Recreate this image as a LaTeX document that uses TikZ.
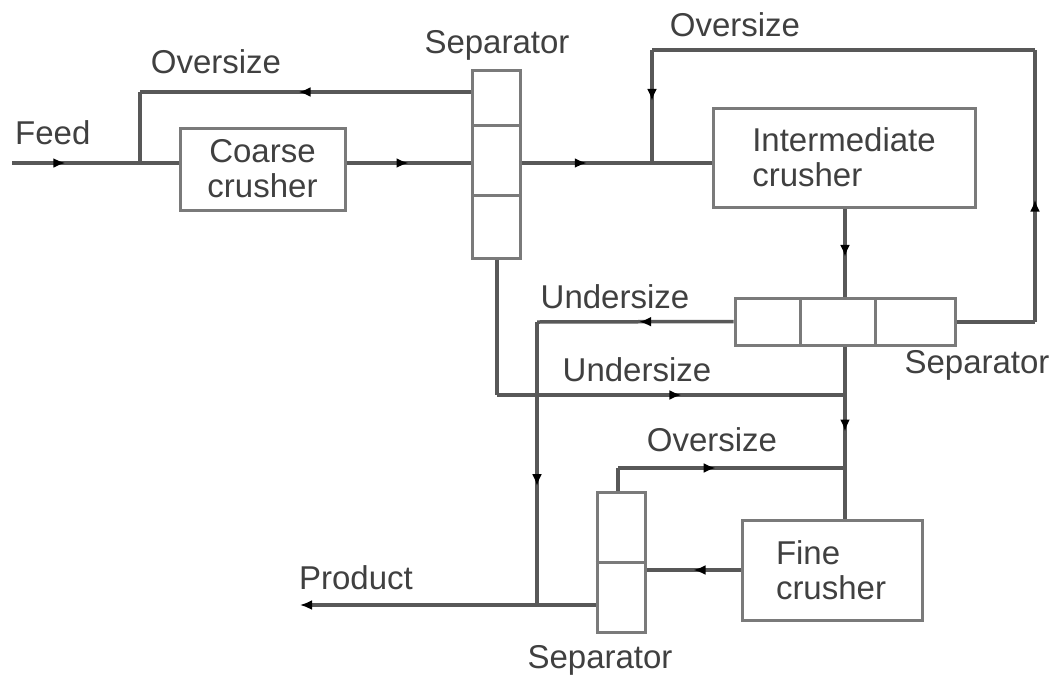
\documentclass[tikz,border=0pt]{standalone}
\usepackage{fontspec}
\setmainfont{Liberation Sans}
\usetikzlibrary{arrows.meta,decorations.markings}
\definecolor{lncol}{HTML}{585858}
\definecolor{boxcol}{HTML}{7A7A7A}
\definecolor{txtcol}{HTML}{404040}
\tikzset{
  ln/.style={draw=lncol, line width=3.5pt},
  divline/.style={draw=boxcol, line width=3pt},
  box/.style={draw=boxcol, line width=3pt, rectangle, inner sep=0pt, text=txtcol,
              font=\fontsize{33}{35}\selectfont},
  lbl/.style={text=txtcol, inner sep=0pt, font=\fontsize{33}{35}\selectfont},
  midarrow/.style={postaction={decorate}, decoration={markings,
      mark=at position #1 with {\arrow[black]{Latex[length=12pt,width=10pt]}}}},
  endtip/.style={-{Latex[length=12pt,width=10pt,black]}}
}
\begin{document}
\begin{tikzpicture}[x=1pt,y=-1pt]
\useasboundingbox (0,0) rectangle (1058,681);

% boxes
\node[box, minimum width=165pt, minimum height=82pt, align=center] (coarse) at (262.5,169) {Coarse\\crusher};
\node[box, minimum width=48pt, minimum height=188pt] (sepA) at (496,164) {};
\node[box, minimum width=262pt, minimum height=99pt, align=left] (inter) at (844,157.5) {Intermediate\\crusher};
\node[box, minimum width=220pt, minimum height=47pt] (sepB) at (845,321.5) {};
\node[box, minimum width=48pt, minimum height=140pt] (sepC) at (621,562) {};
\node[box, minimum width=180pt, minimum height=100pt, align=left, text width=112pt] (fine) at (832,570) {Fine\\crusher};

% separator dividers
\draw[divline] (472,125) -- (520,125);
\draw[divline] (472,195) -- (520,195);
\draw[divline] (800,298) -- (800,345);
\draw[divline] (875,298) -- (875,345);
\draw[divline] (sepC.west) -- (sepC.east);

% junction coordinates
\coordinate (feedin) at (12,163);
\coordinate (j1) at (140,163);
\coordinate (ovA) at (140,92);
\coordinate (j2) at (652,163);
\coordinate (ovT1) at (652,50);
\coordinate (ovT2) at (1035,50);
\coordinate (ovT3) at (1035,322);
\coordinate (uB) at (537,322);
\coordinate (j3) at (537,605);
\coordinate (uA) at (497,395);
\coordinate (j4) at (845,395);
\coordinate (j5) at (845,468);
\coordinate (ovC) at (618,468);
\coordinate (prod) at (300,605);

% connectors
\draw[ln, midarrow=0.32] (feedin) -- (coarse.west |- feedin);
\draw[ln, midarrow=0.52] (sepA.west |- ovA) -- (ovA);
\draw[ln] (ovA) -- (j1);
\draw[ln, midarrow=0.5] (coarse.east |- j1) -- (sepA.west |- j1);
\draw[ln, midarrow=0.5] (sepA.east |- j2) -- (j2);
\draw[ln] (j2) -- (inter.west |- j2);
\draw[ln] (sepB.east |- ovT3) -- (ovT3);
\draw[ln, midarrow=0.45] (ovT3) -- (ovT2);
\draw[ln] (ovT2) -- (ovT1);
\draw[ln, midarrow=0.45] (ovT1) -- (j2);
\draw[ln, midarrow=0.55] (inter.south -| j4) -- (sepB.north -| j4);
\draw[ln, midarrow=0.48] (sepB.west) -- (uB);
\draw[ln, midarrow=0.58] (uB) -- (j3);
\draw[ln] (sepC.west |- j3) -- (j3);
\draw[ln, endtip] (j3) -- (prod);
\draw[ln] (sepA.south -| uA) -- (uA);
\draw[ln, midarrow=0.53] (uA) -- (j4);
\draw[ln] (sepB.south -| j4) -- (j4);
\draw[ln, midarrow=0.5] (j4) -- (j5);
\draw[ln] (j5) -- (fine.north -| j5);
\draw[ln] (sepC.north -| ovC) -- (ovC);
\draw[ln, midarrow=0.43] (ovC) -- (j5);
\draw[ln, midarrow=0.5] (fine.west) -- (sepC.east |- fine.west);

% labels
\node[lbl, anchor=west] (tFeed) at (15,133) {Feed};
\node[lbl] (tOv1) at (216,62) {Oversize};
\node[lbl] (tSepA) at (497,45) {Separator};
\node[lbl] (tOv2) at (735,25) {Oversize};
\node[lbl] (tUn1) at (615,297) {Undersize};
\node[lbl] (tUn2) at (637,370) {Undersize};
\node[lbl] (tSepB) at (977,365) {Separator};
\node[lbl] (tOv3) at (712,440) {Oversize};
\node[lbl] (tProd) at (356,578) {Product};
\node[lbl] (tSepC) at (600,660) {Separator};
\end{tikzpicture}
\end{document}
